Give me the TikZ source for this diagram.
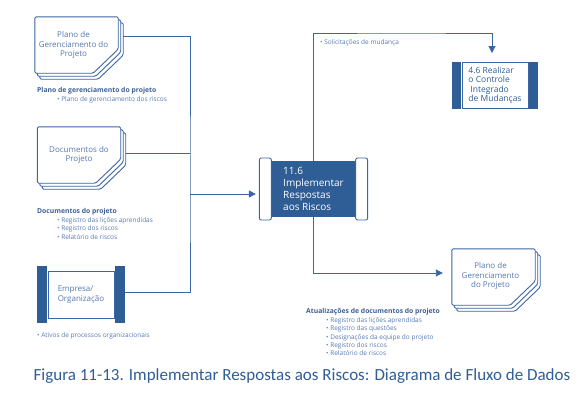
\documentclass[tikz,border=0pt]{standalone}
\usepackage{fontspec}
\setmainfont{Open Sans}
\newfontfamily\capfont{Carlito}
\usetikzlibrary{positioning}
\usetikzlibrary{arrows.meta}
\usetikzlibrary{calc}
\definecolor{pmiblue}{HTML}{2F5D96}
\definecolor{pmiline}{HTML}{3B66A3}
\definecolor{pmitext}{HTML}{5779B0}
\definecolor{pmihead}{HTML}{3C5F96}
\tikzset{
    docpage/.style = {draw=pmiline, line width=0.9pt, fill=white, rounded corners=1.5pt},
    docnode/.style = {minimum width=83pt, minimum height=56pt, inner sep=0pt},
    doctext/.style = {align=center, text=pmitext, inner sep=0pt, font=\fontsize{8}{9.5}\selectfont},
    procbox/.style = {rectangle, fill=pmiblue, minimum width=83pt, minimum height=56pt, inner sep=0pt,
                      align=left, text=white, font=\fontsize{10}{12.2}\selectfont},
    procbar/.style = {rectangle, draw=pmiline, line width=0.9pt, fill=white, rounded corners=2pt,
                      minimum width=12pt, minimum height=62pt, inner sep=0pt},
    rcbox/.style = {rectangle, draw=pmiline, line width=0.9pt, fill=white, minimum width=66pt, minimum height=46pt,
                    inner sep=0pt, align=left, text=pmiblue, font=\fontsize{8.5}{9.5}\selectfont},
    rcbar/.style = {rectangle, fill=pmiblue, minimum width=9pt, minimum height=47pt, inner sep=0pt},
    empbox/.style = {rectangle, draw=pmiline, line width=0.9pt, fill=white, minimum width=66pt, minimum height=47pt,
                     inner sep=0pt, align=left, text=pmitext, font=\fontsize{8}{9.5}\selectfont},
    empbar/.style = {rectangle, fill=pmiblue, minimum width=10pt, minimum height=57pt, inner sep=0pt},
    lbl/.style = {anchor=north west, align=left, inner sep=0pt, text=pmitext, font=\fontsize{6.5}{8.4}\selectfont},
    flowline/.style = {draw=pmiline, line width=0.9pt},
    flowarrow/.style = {draw=pmiline, line width=0.9pt, -{Triangle[length=7pt,width=7pt]}},
    captxt/.style = {text=pmiblue, inner sep=0pt, font=\capfont\fontsize{17}{19}\selectfont}
}
% three stacked pages with a cut corner
\newcommand{\docstack}[1]{%
  \foreach \o in {5,2.5,0}{%
    \draw[docpage] ($(#1.north west)+(\o,\o*1.2)$) -- ($(#1.north east)+(\o,\o*1.2)$)
      -- ($(#1.south east)+(\o,\o*1.2-24)$) -- ($(#1.south east)+(\o-25,\o*1.2)$)
      -- ($(#1.south west)+(\o,\o*1.2)$) -- cycle;
  }%
}
\newcommand{\hd}[1]{{\fontsize{6.8}{8.4}\selectfont\bfseries\color{pmihead}#1}}
\newcommand{\bl}{\hspace*{20pt}• }

\begin{document}
\begin{tikzpicture}[x=1pt, y=-1pt]
\useasboundingbox (0,0) rectangle (584,408);
%
% inputs
\node[docnode] (planoA) at (76.5,45) {};
\docstack{planoA}
\node[doctext] (planoAtxt) at ($(planoA)+(-3,0)$) {Plano de\\Gerenciamento do\\Projeto};
\node[lbl] (planoAlbl) at (37,87.5) {\hd{Plano de gerenciamento do projeto}\\\bl Plano de gerenciamento dos riscos};
%
\node[docnode] (docsA) at (79,155) {};
\docstack{docsA}
\node[doctext] (docsAtxt) at (docsA) {Documentos do\\Projeto};
\node[lbl] (docsAlbl) at (37,208.5) {\hd{Documentos do projeto}\\\bl Registro das lições aprendidas\\\bl Registro dos riscos\\\bl Relatório de riscos};
%
\node[empbox] (emp) at (81,294.5) {Empresa/\\Organização};
\node[empbar, left=0pt of emp] (empL) {};
\node[empbar, right=0pt of emp] (empR) {};
\node[lbl] (emplbl) at (37,332) {• Ativos de processos organizacionais};
%
% process
\node[procbox] (proc) at (313.5,189) {11.6\\Implementar\\Respostas\\aos Riscos};
\node[procbar, left=0pt of proc] (procL) {};
\node[procbar, right=0pt of proc] (procR) {};
%
% outputs
\node[rcbox] (rc) at (495,85.5) {4.6 Realizar\\o Controle\\\hspace*{2pt}Integrado\\de Mudanças};
\node[rcbar, left=0pt of rc] (rcL) {};
\node[rcbar, right=0pt of rc] (rcR) {};
\node[lbl] (sollbl) at (320,39) {• Solicitações de mudança};
%
\node[docnode] (planoB) at (493.5,277) {};
\docstack{planoB}
\node[doctext] (planoBtxt) at ($(planoB)+(-3,-1)$) {Plano de\\Gerenciamento\\do Projeto};
\node[lbl] (atuallbl) at (306,308.5) {\hd{Atualizações de documentos do projeto}\\\bl Registro das lições aprendidas\\\bl Registro das questões\\\bl Designações da equipe do projeto\\\bl Registro dos riscos\\\bl Relatório de riscos};
%
% connectors
\coordinate (bus) at (190,194);
\coordinate (docsOut) at ($(docsA.east)+(5,-2)$);
\coordinate (empOut) at ($(empR.east)+(0,-2)$);
\draw[flowline] ($(planoA.north east)+(5,20)$) -| (bus) |- (empOut);
\draw[flowline] (docsOut) -- (docsOut -| bus);
\draw[flowarrow, shorten >=3pt] (bus) -- (bus -| procL.west);
%
\coordinate (topc) at (400,33);
\coordinate (rcIn) at ($(rc.north)+(-3,0)$);
\draw[flowarrow, shorten >=9pt] (proc.north) |- (topc) -| (rcIn);
\coordinate (planoBin) at ($(planoB.west)+(-9,-4)$);
\draw[flowarrow] (proc.south) |- (planoBin);
%
\node[captxt] (cap) at (302,376) {Figura 11-13. Implementar Respostas aos Riscos: Diagrama de Fluxo de Dados};

\end{tikzpicture}
\end{document}
